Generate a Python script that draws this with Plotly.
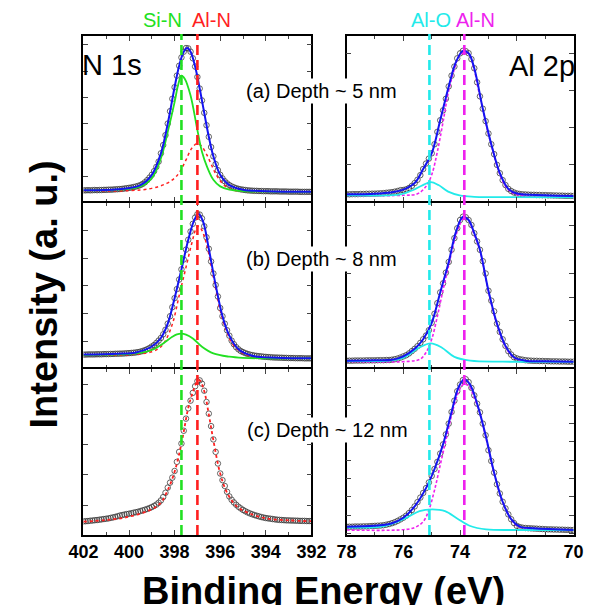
import numpy as np
import plotly.graph_objects as go

# ---------------- data ----------------
# sampling grids of the measured spectra (binding energy, eV)
N1S_E = np.round(np.arange(402.0, 391.95, -0.1), 1)
AL2P_E = np.round(np.arange(78.0, 69.95, -0.1), 1)

# N 1s measured intensities (normalised to panel height), 402.0 -> 392.0 eV
N1S_A_DATA = [0.066, 0.066, 0.067, 0.066, 0.067, 0.068, 0.067, 0.068, 0.068, 0.069, 0.069, 0.070, 0.070, 0.071, 0.072, 0.073,
              0.074, 0.075, 0.077, 0.079, 0.081, 0.083, 0.086, 0.089, 0.093, 0.098, 0.105, 0.115, 0.128, 0.143, 0.160,
              0.182, 0.208, 0.240, 0.290, 0.340, 0.400, 0.470, 0.545, 0.620, 0.690,
              0.760, 0.820, 0.870, 0.905, 0.927, 0.925, 0.905, 0.865, 0.815, 0.752,
              0.682, 0.610, 0.535, 0.460, 0.390, 0.328, 0.272, 0.225, 0.188, 0.160,
              0.138, 0.121, 0.108, 0.098, 0.090, 0.084, 0.079, 0.075, 0.072, 0.070,
              0.068, 0.066, 0.065, 0.064, 0.063, 0.063, 0.062, 0.062, 0.061, 0.061,
              0.061, 0.060, 0.060, 0.060, 0.060, 0.059, 0.059, 0.059, 0.059, 0.058,
              0.058, 0.058, 0.058, 0.058, 0.057, 0.057, 0.057, 0.057, 0.057, 0.057]
N1S_B_DATA = [0.077, 0.077, 0.078, 0.078, 0.078, 0.078, 0.079, 0.079, 0.079, 0.080, 0.080, 0.080, 0.081, 0.081, 0.082, 0.082,
              0.083, 0.083, 0.084, 0.085, 0.086, 0.087, 0.088, 0.090, 0.092, 0.095, 0.099, 0.104, 0.110, 0.117, 0.126,
              0.135, 0.148, 0.162, 0.178, 0.200, 0.228, 0.265, 0.310, 0.365, 0.420,
              0.475, 0.533, 0.595, 0.655, 0.715, 0.775, 0.825, 0.872, 0.910, 0.930,
              0.928, 0.905, 0.857, 0.790, 0.720, 0.643, 0.570, 0.500, 0.430, 0.360,
              0.310, 0.265, 0.225, 0.192, 0.162, 0.140, 0.122, 0.109, 0.099, 0.092,
              0.086, 0.081, 0.077, 0.074, 0.071, 0.069, 0.067, 0.066, 0.064, 0.063,
              0.062, 0.061, 0.060, 0.059, 0.059, 0.058, 0.058, 0.057, 0.057, 0.056,
              0.056, 0.056, 0.055, 0.055, 0.055, 0.055, 0.054, 0.054, 0.054, 0.054]
N1S_C_DATA = [0.082, 0.083, 0.084, 0.086, 0.087, 0.089, 0.090, 0.092, 0.094, 0.096, 0.098, 0.100, 0.103, 0.106, 0.109, 0.113,
              0.117, 0.120, 0.123, 0.126, 0.128, 0.131, 0.134, 0.137, 0.140, 0.144, 0.148, 0.152, 0.157, 0.162, 0.168,
              0.175, 0.183, 0.194, 0.208, 0.228, 0.254, 0.285, 0.315, 0.345, 0.385,
              0.440, 0.500, 0.550, 0.627, 0.700, 0.762, 0.808, 0.855, 0.895, 0.925,
              0.930, 0.910, 0.868, 0.800, 0.730, 0.655, 0.575, 0.500, 0.430, 0.370,
              0.330, 0.295, 0.260, 0.232, 0.212, 0.196, 0.182, 0.170, 0.160, 0.151,
              0.143, 0.136, 0.130, 0.125, 0.120, 0.116, 0.112, 0.108, 0.105, 0.102,
              0.100, 0.098, 0.096, 0.094, 0.092, 0.091, 0.090, 0.089, 0.088, 0.088,
              0.087, 0.087, 0.086, 0.086, 0.085, 0.085, 0.085, 0.084, 0.084, 0.084]

# Al 2p measured intensities, 78.0 -> 70.0 eV
AL2P_A_DATA = [0.042, 0.042, 0.043, 0.043, 0.043, 0.044, 0.044, 0.045, 0.045, 0.046,
               0.046, 0.047, 0.048, 0.049, 0.051, 0.053, 0.055, 0.058, 0.062, 0.067,
               0.068, 0.072, 0.080, 0.093, 0.110, 0.130, 0.158, 0.195, 0.228, 0.258,
               0.290, 0.345, 0.420, 0.490, 0.550, 0.620, 0.695, 0.760, 0.815, 0.865,
               0.895, 0.910, 0.908, 0.896, 0.860, 0.805, 0.720, 0.635, 0.560, 0.485,
               0.410, 0.345, 0.285, 0.220, 0.170, 0.128, 0.098, 0.075, 0.062, 0.053,
               0.047, 0.044, 0.042, 0.041, 0.040, 0.039, 0.039, 0.038, 0.038, 0.037,
               0.037, 0.036, 0.036, 0.035, 0.035, 0.034, 0.034, 0.033, 0.033, 0.033,
               0.032]
AL2P_B_DATA = [0.040, 0.040, 0.040, 0.041, 0.041, 0.041, 0.041, 0.042, 0.042, 0.042,
               0.042, 0.043, 0.043, 0.043, 0.044, 0.044, 0.046, 0.049, 0.053, 0.059,
               0.066, 0.073, 0.084, 0.098, 0.112, 0.128, 0.148, 0.170, 0.193, 0.225,
               0.270, 0.325, 0.390, 0.455, 0.510, 0.575, 0.640, 0.714, 0.785, 0.845,
               0.895, 0.915, 0.912, 0.895, 0.865, 0.815, 0.765, 0.714, 0.645, 0.570,
               0.465, 0.405, 0.340, 0.265, 0.215, 0.170, 0.130, 0.098, 0.077, 0.061,
               0.054, 0.049, 0.046, 0.043, 0.041, 0.040, 0.039, 0.039, 0.038, 0.038,
               0.037, 0.037, 0.036, 0.036, 0.036, 0.035, 0.035, 0.035, 0.034, 0.034,
               0.034]
AL2P_C_DATA = [0.050, 0.050, 0.050, 0.051, 0.051, 0.051, 0.052, 0.052, 0.053, 0.054,
               0.055, 0.056, 0.057, 0.059, 0.062, 0.066, 0.071, 0.077, 0.085, 0.094,
               0.104, 0.116, 0.132, 0.150, 0.172, 0.198, 0.225, 0.253, 0.282, 0.316,
               0.355, 0.397, 0.440, 0.490, 0.545, 0.605, 0.670, 0.740, 0.808, 0.865,
               0.905, 0.932, 0.937, 0.920, 0.885, 0.840, 0.790, 0.738, 0.670, 0.600,
               0.510, 0.445, 0.375, 0.305, 0.250, 0.200, 0.160, 0.124, 0.095, 0.072,
               0.055, 0.048, 0.044, 0.042, 0.041, 0.040, 0.039, 0.038, 0.037, 0.036,
               0.035, 0.034, 0.034, 0.033, 0.033, 0.032, 0.032, 0.031, 0.031, 0.030,
               0.030]

# fitted curves (sparse points, drawn as splines)
N1S_A_FIT_E = [402, 400.5, 399.5, 399.0, 398.6, 398.3, 398.0, 397.8, 397.6, 397.45, 397.3, 397.1, 396.9, 396.7, 396.5, 396.3, 396.0, 395.6, 395.0, 394.0, 392]
N1S_A_FIT = [0.066, 0.072, 0.098, 0.16, 0.29, 0.47, 0.69, 0.82, 0.905, 0.928, 0.905, 0.815, 0.682, 0.535, 0.39, 0.272, 0.16, 0.098, 0.07, 0.061, 0.057]
N1S_A_SIN_E = [402, 400.5, 399.5, 399.0, 398.6, 398.3, 398.0, 397.85, 397.7, 397.55, 397.3, 397.0, 396.8, 396.58, 396.3, 396.0, 395.6, 395.0, 394, 392]
N1S_A_SIN = [0.066, 0.07, 0.09, 0.14, 0.26, 0.42, 0.6, 0.7, 0.76, 0.74, 0.64, 0.43, 0.3, 0.21, 0.13, 0.09, 0.07, 0.062, 0.058, 0.057]
N1S_A_ALN_E = [402, 400, 399.0, 398.35, 398.0, 397.77, 397.5, 397.25, 397.0, 396.8, 396.58, 396.35, 396.17, 395.95, 395.75, 395.5, 395.2, 394, 392]
N1S_A_ALN = [0.064, 0.064, 0.078, 0.108, 0.14, 0.179, 0.25, 0.32, 0.35, 0.33, 0.279, 0.21, 0.159, 0.115, 0.088, 0.07, 0.062, 0.058, 0.057]

N1S_B_FIT_E = [402, 400.5, 399.7, 399.0, 398.6, 398.3, 398.0, 397.7, 397.4, 397.15, 396.95, 396.75, 396.5, 396.2, 395.9, 395.6, 395.2, 394.6, 393.5, 392]
N1S_B_FIT = [0.077, 0.082, 0.09, 0.126, 0.178, 0.265, 0.42, 0.595, 0.775, 0.89, 0.932, 0.885, 0.72, 0.5, 0.31, 0.192, 0.109, 0.07, 0.058, 0.054]
N1S_B_SIN_E = [402, 400.5, 399.7, 399.0, 398.5, 398.1, 397.9, 397.7, 397.5, 397.2, 396.8, 396.3, 395.6, 395.0, 394, 392]
N1S_B_SIN = [0.074, 0.078, 0.084, 0.105, 0.145, 0.185, 0.2, 0.205, 0.198, 0.175, 0.125, 0.084, 0.064, 0.057, 0.054, 0.054]
N1S_B_ALN_E = [402, 400, 399.0, 398.6, 398.35, 398.07, 397.8, 397.52, 397.24, 397.05, 396.95, 396.83, 396.62, 396.4, 396.2, 396.0, 395.72, 395.45, 395.03, 394.5, 393, 392]
N1S_B_ALN = [0.074, 0.076, 0.094, 0.125, 0.175, 0.275, 0.436, 0.596, 0.757, 0.845, 0.857, 0.84, 0.76, 0.62, 0.48, 0.345, 0.22, 0.14, 0.088, 0.062, 0.054, 0.053]

N1S_C_ALN_E = [402, 401, 400, 399.0, 398.6, 398.3, 398.0, 397.7, 397.4, 397.2, 397.0, 396.9, 396.7, 396.5, 396.3, 396.0, 395.7, 395.3, 394.8, 394.0, 393.0, 392]
N1S_C_ALN = [0.08, 0.09, 0.11, 0.155, 0.195, 0.27, 0.38, 0.55, 0.765, 0.86, 0.925, 0.93, 0.865, 0.725, 0.57, 0.37, 0.255, 0.175, 0.135, 0.1, 0.088, 0.083]

AL2P_A_FIT_E = [78, 77, 76.4, 76.0, 75.6, 75.3, 75.0, 74.7, 74.4, 74.15, 73.9, 73.7, 73.5, 73.2, 72.9, 72.6, 72.3, 72.0, 71.0, 70]
AL2P_A_FIT = [0.042, 0.046, 0.055, 0.07, 0.11, 0.195, 0.29, 0.49, 0.695, 0.84, 0.91, 0.896, 0.805, 0.56, 0.345, 0.17, 0.075, 0.047, 0.037, 0.032]
AL2P_A_ALO_E = [78, 76.5, 76.1, 75.65, 75.31, 75.03, 74.76, 74.42, 73.98, 73.5, 73.0, 70]
AL2P_A_ALO = [0.035, 0.036, 0.041, 0.068, 0.098, 0.116, 0.098, 0.058, 0.034, 0.027, 0.025, 0.024]
AL2P_A_ALN_E = [78, 76.0, 75.5, 75.2, 75.0, 74.8, 74.6, 74.4, 74.2, 74.05, 73.86, 73.69, 73.52, 73.36, 73.19, 73.02, 72.85, 72.69, 72.52, 72.3, 72.0, 71.5, 70]
AL2P_A_ALN = [0.035, 0.036, 0.045, 0.09, 0.16, 0.3, 0.48, 0.67, 0.8, 0.875, 0.9, 0.89, 0.81, 0.68, 0.55, 0.42, 0.31, 0.21, 0.13, 0.07, 0.04, 0.028, 0.025]

AL2P_B_FIT_E = [78, 77, 76.4, 76.0, 75.6, 75.3, 75.0, 74.7, 74.4, 74.15, 73.9, 73.7, 73.5, 73.3, 73.0, 72.7, 72.4, 72.1, 71.7, 71, 70]
AL2P_B_FIT = [0.04, 0.042, 0.045, 0.066, 0.112, 0.17, 0.27, 0.455, 0.64, 0.82, 0.915, 0.895, 0.815, 0.714, 0.465, 0.265, 0.13, 0.061, 0.04, 0.037, 0.034]
AL2P_B_ALO_E = [78, 76.5, 76.1, 75.77, 75.43, 75.03, 74.65, 74.2, 73.64, 72.5, 70]
AL2P_B_ALO = [0.038, 0.04, 0.052, 0.08, 0.12, 0.145, 0.12, 0.063, 0.04, 0.034, 0.033]
AL2P_B_ALN_E = [78, 75.8, 75.4, 75.2, 75.0, 74.8, 74.6, 74.4, 74.2, 74.0, 73.86, 73.69, 73.52, 73.3, 73.0, 72.7, 72.4, 72.1, 71.7, 70]
AL2P_B_ALN = [0.035, 0.036, 0.05, 0.09, 0.17, 0.31, 0.47, 0.62, 0.77, 0.87, 0.91, 0.89, 0.815, 0.71, 0.46, 0.26, 0.125, 0.058, 0.038, 0.034]

AL2P_C_FIT_E = [78, 77, 76.4, 76.0, 75.6, 75.2, 74.9, 74.6, 74.3, 74.05, 73.85, 73.65, 73.4, 73.1, 72.8, 72.5, 72.2, 71.9, 71.4, 70]
AL2P_C_FIT = [0.05, 0.055, 0.071, 0.104, 0.172, 0.282, 0.397, 0.545, 0.74, 0.89, 0.937, 0.905, 0.79, 0.6, 0.375, 0.2, 0.095, 0.05, 0.04, 0.03]
AL2P_C_ALO_E = [78, 76.9, 76.44, 75.88, 75.43, 74.98, 74.53, 74.09, 73.64, 73.08, 72, 70]
AL2P_C_ALO = [0.045, 0.048, 0.064, 0.104, 0.144, 0.154, 0.144, 0.098, 0.054, 0.034, 0.03, 0.03]
AL2P_C_ALN_E = [78, 76.0, 75.6, 75.3, 75.1, 74.9, 74.7, 74.5, 74.3, 74.1, 73.95, 73.86, 73.69, 73.52, 73.3, 73.13, 72.85, 72.52, 72.18, 71.96, 71.5, 70]
AL2P_C_ALN = [0.03, 0.032, 0.045, 0.08, 0.15, 0.27, 0.42, 0.57, 0.72, 0.84, 0.895, 0.908, 0.895, 0.835, 0.73, 0.615, 0.405, 0.208, 0.09, 0.052, 0.035, 0.03]

# peak reference positions (eV) and labels
N1S_PEAKS = [397.7, 397.0]
N1S_PEAK_LABELS = ["Si-N", "Al-N"]
AL2P_PEAKS = [75.08, 73.85]
AL2P_PEAK_LABELS = ["Al-O", "Al-N"]
DEPTH_LABELS = ["(a) Depth ~ 5 nm", "(b) Depth ~ 8 nm", "(c) Depth ~ 12 nm"]
N1S_TICKS = [402, 400, 398, 396, 394, 392]
AL2P_TICKS = [78, 76, 74, 72, 70]

# ---------------- styling ----------------
GREEN = "#22e022"
RED = "#ff1f1f"
CYAN = "#22eaea"
MAGENTA = "#ee22ee"
BLUE = "#1414f0"
FONT = "Liberation Sans, Arial, sans-serif"

W, H = 600, 605
LW = 1.5  # frame line width
def px(x):
    return x / W
def py(y):
    return 1 - y / H

COL_X = [(72, 312), (349, 588)]
# rows separated by one line width so the shared frame lines coincide
ROW_Y = [(36, 202 - LW / 2), (202 + LW / 2, 368 - LW / 2), (368 + LW / 2, 535)]
# y tick layout per panel (tick0, dtick) in normalised units
YTICKS = {
    (0, 0): (0.152, 0.159), (0, 1): (0.223, 0.224),
    (1, 0): (0.158, 0.168), (1, 1): (0.139, 0.144),
    (2, 0): (0.180, 0.182), (2, 1): (0.120, 0.110),
}

fig = go.Figure()

def axname(row, col):
    i = row * 2 + col + 1
    return ("x" if i == 1 else f"x{i}"), ("y" if i == 1 else f"y{i}")

def add_data(row, col, E, vals):
    xa, ya = axname(row, col)
    fig.add_trace(go.Scatter(x=E, y=vals, mode="markers", xaxis=xa, yaxis=ya,
                             marker=dict(symbol="circle-open", size=5.5, color="rgba(50,50,50,0.75)",
                                         line=dict(width=1)), showlegend=False))

def add_line(row, col, E, vals, color, width=1.6, dash="solid"):
    xa, ya = axname(row, col)
    fig.add_trace(go.Scatter(x=E, y=vals, mode="lines", xaxis=xa, yaxis=ya,
                             line=dict(color=color, width=width, dash=dash, shape="spline", smoothing=1.0),
                             showlegend=False))

# N 1s column
add_data(0, 0, N1S_E, N1S_A_DATA)
add_line(0, 0, N1S_A_ALN_E, N1S_A_ALN, RED, 1.5, "dot")
add_line(0, 0, N1S_A_SIN_E, N1S_A_SIN, GREEN, 1.8)
add_line(0, 0, N1S_A_FIT_E, N1S_A_FIT, BLUE, 2.0)

add_data(1, 0, N1S_E, N1S_B_DATA)
add_line(1, 0, N1S_B_ALN_E, N1S_B_ALN, RED, 1.5, "dot")
add_line(1, 0, N1S_B_SIN_E, N1S_B_SIN, GREEN, 1.8)
add_line(1, 0, N1S_B_FIT_E, N1S_B_FIT, BLUE, 2.0)

add_data(2, 0, N1S_E, N1S_C_DATA)
add_line(2, 0, N1S_C_ALN_E, N1S_C_ALN, RED, 1.8, "dot")

# Al 2p column
for row, data, fitE, fit, aloE, alo, alnE, aln in [
    (0, AL2P_A_DATA, AL2P_A_FIT_E, AL2P_A_FIT, AL2P_A_ALO_E, AL2P_A_ALO, AL2P_A_ALN_E, AL2P_A_ALN),
    (1, AL2P_B_DATA, AL2P_B_FIT_E, AL2P_B_FIT, AL2P_B_ALO_E, AL2P_B_ALO, AL2P_B_ALN_E, AL2P_B_ALN),
    (2, AL2P_C_DATA, AL2P_C_FIT_E, AL2P_C_FIT, AL2P_C_ALO_E, AL2P_C_ALO, AL2P_C_ALN_E, AL2P_C_ALN),
]:
    add_data(row, 1, AL2P_E, data)
    add_line(row, 1, alnE, aln, MAGENTA, 1.6, "3px,2px")
    add_line(row, 1, aloE, alo, CYAN, 1.8)
    add_line(row, 1, fitE, fit, BLUE, 2.0)

layout = dict(width=W, height=H, margin=dict(l=0, r=0, t=0, b=0),
              paper_bgcolor="white", plot_bgcolor="white", showlegend=False,
              font=dict(family=FONT, color="black"))

for row in range(3):
    for col in range(2):
        i = row * 2 + col + 1
        xk = "xaxis" if i == 1 else f"xaxis{i}"
        yk = "yaxis" if i == 1 else f"yaxis{i}"
        xa, ya = axname(row, col)
        x0, x1 = COL_X[col]
        y0, y1 = ROW_Y[row]
        ticks = N1S_TICKS if col == 0 else AL2P_TICKS
        layout[xk] = dict(domain=[px(x0), px(x1)], anchor=ya,
                          range=[ticks[0], ticks[-1]], tickvals=ticks,
                          ticktext=[str(t) for t in ticks],
                          showticklabels=(row == 2), ticks="inside", ticklen=5, tickwidth=1.3,
                          minor=dict(dtick=1, ticks="inside", ticklen=3, tickwidth=1.2),
                          showline=True, linecolor="black", linewidth=LW, mirror="ticks",
                          showgrid=False, zeroline=False,
                          tickfont=dict(family="Liberation Sans Narrow, Liberation Sans, Arial", size=18,
                                        color="black", weight="bold"))
        t0, dt = YTICKS[(row, col)]
        layout[yk] = dict(domain=[py(y1), py(y0)], anchor=xa, range=[0, 1],
                          tick0=t0, dtick=dt, showticklabels=False,
                          ticks="inside", ticklen=5, tickwidth=1.3,
                          showline=True, linecolor="black", linewidth=LW, mirror="ticks",
                          showgrid=False, zeroline=False)

fig.update_layout(**layout)

# vertical dashed reference lines spanning the three rows
shape_specs = [(N1S_PEAKS[0], GREEN, "x"), (N1S_PEAKS[1], RED, "x"),
               (AL2P_PEAKS[0], CYAN, "x2"), (AL2P_PEAKS[1], MAGENTA, "x2")]
for xv, color, xr in shape_specs:
    fig.add_shape(type="line", xref=xr, yref="paper", x0=xv, x1=xv,
                  y0=py(535), y1=py(34),
                  line=dict(color=color, width=2.6, dash="10px,5px"), layer="above")

ann = []
# peak labels above the panels
for text, color, cx in [(N1S_PEAK_LABELS[0], GREEN, 155), (N1S_PEAK_LABELS[1], RED, 207),
                        (AL2P_PEAK_LABELS[0], CYAN, 438), (AL2P_PEAK_LABELS[1], MAGENTA, 485)]:
    ann.append(dict(text=text, x=px(cx), y=py(20), xref="paper", yref="paper", showarrow=False,
                    xanchor="center", yanchor="middle", font=dict(size=20, color=color, family=FONT)))
# core-level labels
ann.append(dict(text="N 1s", x=px(102), y=py(65), xref="paper", yref="paper", showarrow=False,
                xanchor="center", yanchor="middle", font=dict(size=29, color="black", family=FONT)))
ann.append(dict(text="Al 2p", x=px(555), y=py(66), xref="paper", yref="paper", showarrow=False,
                xanchor="center", yanchor="middle", font=dict(size=29, color="black", family=FONT)))
# depth labels
for text, yc, cx in zip(DEPTH_LABELS, [91, 259, 430], [323, 323, 329]):
    ann.append(dict(text=text, x=px(cx), y=py(yc), xref="paper", yref="paper", showarrow=False,
                    xanchor="center", yanchor="middle", bgcolor="white", borderpad=1,
                    font=dict(size=20, color="black", family=FONT)))
# axis titles
ann.append(dict(text="Intensity (a. u.)", x=px(31), y=py(294), xref="paper", yref="paper",
                showarrow=False, textangle=-90, xanchor="center", yanchor="middle",
                font=dict(size=38, color="black", family=FONT, weight="bold")))
ann.append(dict(text="Binding Energy (eV)", x=px(325), y=py(591), xref="paper", yref="paper",
                showarrow=False, xanchor="center", yanchor="middle",
                font=dict(size=38, color="black", family=FONT, weight="bold")))
fig.update_layout(annotations=ann)

fig.write_html("out.html")
